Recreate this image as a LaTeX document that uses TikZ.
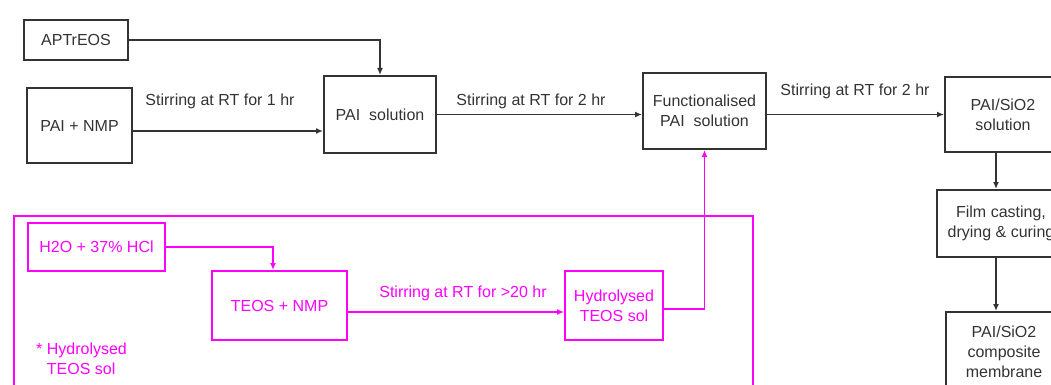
\documentclass[tikz,border=0pt]{standalone}
\usepackage{fontspec}
\setmainfont{Liberation Sans}
\usepackage{xcolor}
\usetikzlibrary{arrows.meta,positioning}
\definecolor{solgel}{HTML}{FF00FF}
\definecolor{ink}{HTML}{333333}

\begin{document}
\begin{tikzpicture}[
  x=1pt, y=-1pt,
  every node/.style={font=\fontsize{16}{20}\selectfont, text=ink},
  box/.style={rectangle, draw=ink, line width=2pt, align=center, inner sep=2pt},
  pbox/.style={box, draw=solgel, text=solgel},
  lbl/.style={inner sep=0pt},
  plbl/.style={lbl, text=solgel},
  arrow/.style={-{Latex[length=7pt,width=6pt]}, line width=1.9pt, draw=ink},
  parrow/.style={arrow, draw=solgel}
]
\useasboundingbox (0,0) rectangle (1051,385);
\clip (0,0) rectangle (1051,385);

\node[box, minimum width=104pt, minimum height=40pt] (aptr) at (76,40) {APTrEOS};
\node[box, minimum width=105pt, minimum height=75pt] (painmp) at (79.5,125.5) {PAI + NMP};
\node[box, minimum width=112pt, minimum height=77pt] (paisol) at (380,114.5) {PAI~ solution};
\node[box, minimum width=123pt, minimum height=76pt] (func) at (704.5,111) {Functionalised\\PAI~ solution};
\node[box, minimum width=116pt, minimum height=75pt] (sio2sol) at (1003,114.5) {PAI/SiO2\\solution};
\node[box, minimum width=128pt, minimum height=67pt] (film) at (1001,223.5) {Film casting,\\drying \& curing};
\node[box, minimum width=116pt, minimum height=80pt] (memb) at (1004,352) {PAI/SiO2\\composite\\membrane};

\node[pbox, minimum width=739pt, minimum height=185pt, anchor=north west] (grp) at (13,215) {};
\node[pbox, minimum width=137pt, minimum height=48pt] (h2o) at (96.5,247) {H2O + 37\% HCl};
\node[pbox, minimum width=135pt, minimum height=69pt] (teos) at (279.5,305.5) {TEOS + NMP};
\node[pbox, minimum width=98pt, minimum height=69pt] (hyd) at (614,305.5) {Hydrolysed\\TEOS sol};
\node[plbl, anchor=north west, align=left] (note) at (36,343) {* Hydrolysed\\\hphantom{*~}TEOS sol};

\node[lbl] (l1) at (220,101) {Stirring at RT for 1 hr};
\node[lbl] (l2) at (531,101) {Stirring at RT for 2 hr};
\node[lbl] (l3) at (855,91) {Stirring at RT for 2 hr};
\node[plbl] (l4) at (463,293) {Stirring at RT for >20 hr};

\draw[arrow] (aptr.east) -| (paisol.north);
\draw[arrow] ([yshift=-5.5pt]painmp.east) -- ([yshift=-5.5pt]painmp.east -| paisol.west);
\draw[arrow] (paisol.east) -- (paisol.east -| func.west);
\draw[arrow] (sio2sol.west -| func.east) -- (sio2sol.west);
\draw[arrow] ([xshift=-7pt]sio2sol.south) -- ([xshift=-7pt]sio2sol.south |- film.north);
\draw[arrow] ([xshift=-5pt]film.south) -- ([xshift=-5pt]film.south |- memb.north);
\draw[parrow] (h2o.east) -| ([xshift=-6.5pt]teos.north);
\draw[parrow] ([yshift=-6.5pt]teos.east) -- ([yshift=-6.5pt]teos.east -| hyd.west);
\draw[parrow] ([yshift=-3.5pt]hyd.east) -| (func.south);
\end{tikzpicture}
\end{document}
